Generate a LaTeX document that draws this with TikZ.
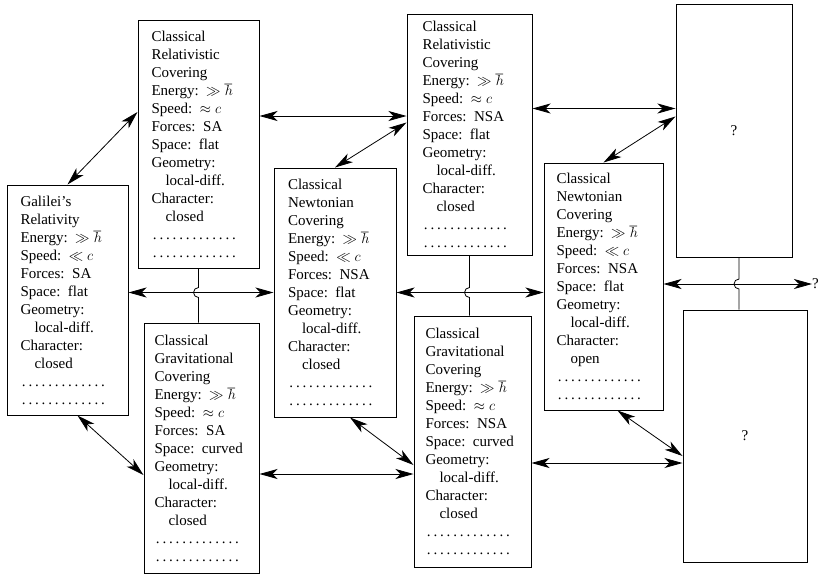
\documentclass[tikz,border=0pt]{standalone}
\usepackage{fontspec}
\setmainfont{Liberation Serif}
\usepackage{tikz}
\usetikzlibrary{arrows.meta}
\usetikzlibrary{calc}
\newcommand{\boxTextWidth}{94pt}
\newcommand{\hopRadius}{5pt}
\newcommand{\dotRow}{\makebox[\linewidth][l]{\leaders\hbox to 6.6pt{\hss.\hss}\hskip 92pt}}
\newcommand{\indentLine}{\hspace*{14pt}}

\begin{document}
\begin{tikzpicture}[x=1pt,y=-1pt,
  font=\fontsize{15}{18}\selectfont,
  >={Stealth[length=18pt,width=10pt,inset=5pt]},
  coverbox/.style={draw, line width=1pt, text width=\boxTextWidth, align=left, inner sep=0pt},
  link/.style={<->, line width=0.8pt},
  plain/.style={line width=0.8pt}]
\useasboundingbox (0,0) rectangle (821,576);

% left column
\node[coverbox, minimum width=121pt, minimum height=230pt] (gal) at (67.5,300) {Galilei's\\Relativity\\Energy: $\gg\hbar$\\Speed: $\ll c$\\Forces: SA\\Space: flat\\Geometry:\\\indentLine local-diff.\\Character:\\\indentLine closed\\\dotRow\\\dotRow};

% second column
\node[coverbox, minimum width=121pt, minimum height=248pt] (crcSA) at (198.5,144) {Classical\\Relativistic\\Covering\\Energy: $\gg\hbar$\\Speed: $\approx c$\\Forces: SA\\Space: flat\\Geometry:\\\indentLine local-diff.\\Character:\\\indentLine closed\\\dotRow\\\dotRow};
\node[coverbox, minimum width=115pt, minimum height=250pt] (cgcSA) at (201.5,448) {Classical\\Gravitational\\Covering\\Energy: $\gg\hbar$\\Speed: $\approx c$\\Forces: SA\\Space: curved\\Geometry:\\\indentLine local-diff.\\Character:\\\indentLine closed\\\dotRow\\\dotRow};

% third column
\node[coverbox, minimum width=122pt, minimum height=249pt] (cncNSA) at (335,292.5) {Classical\\Newtonian\\Covering\\Energy: $\gg\hbar$\\Speed: $\ll c$\\Forces: NSA\\Space: flat\\Geometry:\\\indentLine local-diff.\\Character:\\\indentLine closed\\\dotRow\\\dotRow};

% fourth column
\node[coverbox, minimum width=125pt, minimum height=241pt] (crcNSA) at (469.5,134.5) {Classical\\Relativistic\\Covering\\Energy: $\gg\hbar$\\Speed: $\approx c$\\Forces: NSA\\Space: flat\\Geometry:\\\indentLine local-diff.\\Character:\\\indentLine closed\\\dotRow\\\dotRow};
\node[coverbox, minimum width=117pt, minimum height=251pt] (cgcNSA) at (472.5,441.5) {Classical\\Gravitational\\Covering\\Energy: $\gg\hbar$\\Speed: $\approx c$\\Forces: NSA\\Space: curved\\Geometry:\\\indentLine local-diff.\\Character:\\\indentLine closed\\\dotRow\\\dotRow};

% fifth column
\node[coverbox, minimum width=119pt, minimum height=247pt] (cncOpen) at (603.5,286.5) {Classical\\Newtonian\\Covering\\Energy: $\gg\hbar$\\Speed: $\ll c$\\Forces: NSA\\Space: flat\\Geometry:\\\indentLine local-diff.\\Character:\\\indentLine open\\\dotRow\\\dotRow};

% unknown coverings
\node[coverbox, text width=, align=center, minimum width=116pt, minimum height=253pt] (qTop) at (734,130.5) {?};
\node[coverbox, text width=, align=center, minimum width=124pt, minimum height=252pt] (qBot) at (745,436) {?};
\node[anchor=west, inner sep=0pt] (qOut) at (812,284) {?};

% upper links
\draw[link] (gal.north) -- ($(crcSA.west)+(0,32pt)$);
\draw[link] ($(crcSA.east)+(0,28pt)$) -- ($(crcSA.east -| crcNSA.west)+(0,28pt)$);
\draw[link] (cncNSA.north) -- ($(crcNSA.west)+(0,12pt)$);
\draw[link] ($(crcNSA.east)+(0,26pt)$) -- ($(crcNSA.east -| qTop.west)+(0,26pt)$);
\draw[link] (cncOpen.north) -- ($(qTop.west)+(0,14pt)$);

% middle links
\draw[link] (gal.east |- cncNSA.west) -- (cncNSA.west);
\draw[link] (cncNSA.east) -- (cncNSA.east -| cncOpen.west);
\draw[link] (cncOpen.east |- qOut.west) -- (qOut.west);

% vertical lines hopping over the middle links
\draw[plain] (crcSA.south) -- ($(crcSA.south |- cncNSA.west)+(0,\hopRadius)$)
  arc[start angle=90, end angle=270, radius=\hopRadius] -- (crcSA.south |- cgcSA.north);
\draw[plain] (crcNSA.south) -- ($(crcNSA.south |- cncNSA.east)+(0,\hopRadius)$)
  arc[start angle=90, end angle=270, radius=\hopRadius] -- (crcNSA.south |- cgcNSA.north);
\draw[plain] ($(qTop.south)+(5pt,0)$) -- ($(qTop.south |- qOut.west)+(5pt,\hopRadius)$)
  arc[start angle=90, end angle=270, radius=\hopRadius] -- ($(qTop.south |- qBot.north)+(5pt,0)$);

% lower links
\draw[link] ($(gal.south)+(10pt,0)$) -- ($(cgcSA.west)+(0,-27pt)$);
\draw[link] ($(cgcSA.east)+(0,-26pt)$) -- ($(cgcSA.east -| cgcNSA.west)+(0,-26pt)$);
\draw[link] ($(cncNSA.south)+(15pt,0)$) -- ($(cgcNSA.west)+(0,-23.5pt)$);
\draw[link] ($(cgcNSA.east)+(0,-21.5pt)$) -- ($(cgcNSA.east -| qBot.west)+(0,-21.5pt)$);
\draw[link] ($(cncOpen.south)+(14pt,0)$) -- ($(qBot.west)+(0,-20pt)$);
\end{tikzpicture}
\end{document}
